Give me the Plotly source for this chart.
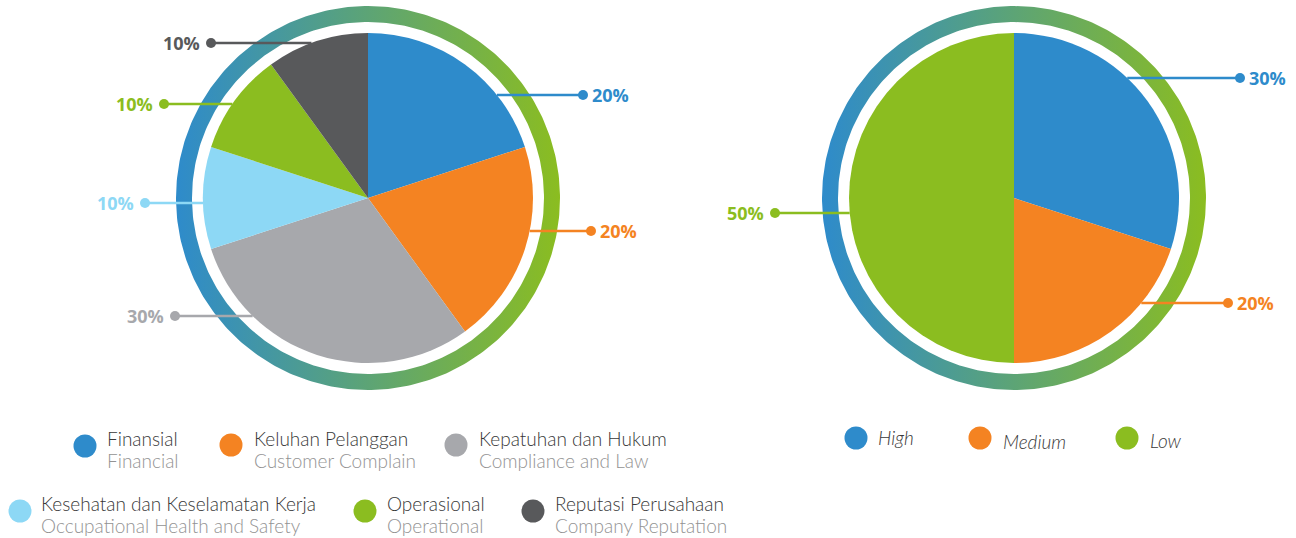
import numpy as np
import plotly.graph_objects as go

W, H = 1296, 538

# Risk categories (left chart)
category_id = ["Finansial", "Keluhan Pelanggan", "Kepatuhan dan Hukum",
               "Kesehatan dan Keselamatan Kerja", "Operasional", "Reputasi Perusahaan"]
category_en = ["Financial", "Customer Complain", "Compliance and Law",
               "Occupational Health and Safety", "Operational", "Company Reputation"]
category_share = [20, 20, 30, 10, 10, 10]
category_colors = ["#2E8BCB", "#F48322", "#A7A8AC", "#8DD8F5", "#8BBD20", "#58595B"]

# Risk levels (right chart)
level_names = ["High", "Medium", "Low"]
level_share = [30, 20, 50]
level_colors = ["#2E8BCB", "#F48322", "#8BBD20"]

# ---- layout (pixel units, y grows downward) ----
PIE_R = 165
RING_IN, RING_OUT = 176, 192
left_center = (368, 198)
right_center = (1014, 198)

# callout placement per slice: (side, y, dot x)
left_callouts = [("right", 95, 583), ("right", 231, 591), ("left", 316, 175),
                 ("left", 203, 145), ("left", 104, 164), ("left", 43, 211)]
right_callouts = [("right", 78, 1240), ("right", 303, 1228), ("left", 213, 775)]

# legend placement: (circle x, circle y, text x, top-line y, bottom-line y)
left_legend_pos = [(85, 446, 107, 438, 460), (231, 445, 254, 438, 460),
                   (456, 445, 479, 438, 460), (20, 511, 41, 503, 525),
                   (365, 511, 387, 503, 525), (533, 511, 555, 503, 525)]
right_legend_pos = [(856, 438, 878, 437), (980, 438, 1003, 441), (1127, 438, 1150, 440)]

RING_COLORS = [[0, "#2E8BCB"], [1, "#8BBD20"]]
LABEL_FONT = "Open Sans"
TEXT_FONT = "Lato"


def px_domain(center, r):
    cx, cy = center
    return dict(x=[(cx - r) / W, (cx + r) / W],
                y=[1 - (cy + r) / H, 1 - (cy - r) / H])


def ring_trace(center):
    cx, cy = center
    t = np.linspace(0, 2 * np.pi, 361)
    xs = np.concatenate([cx + RING_OUT * np.cos(t), cx + RING_IN * np.cos(t[::-1])])
    ys = np.concatenate([cy + RING_OUT * np.sin(t), cy + RING_IN * np.sin(t[::-1])])
    return go.Scatter(x=xs, y=ys, mode="lines", fill="toself",
                      line=dict(width=0, color="rgba(0,0,0,0)"),
                      fillgradient=dict(type="horizontal", colorscale=RING_COLORS),
                      hoverinfo="skip", showlegend=False)


fig = go.Figure()

for c in (left_center, right_center):
    fig.add_trace(ring_trace(c))

annotations = []


def text_note(x, y, text, font, anchor="left"):
    return dict(x=x, y=y, xref="x", yref="y", text=text, showarrow=False,
                xanchor=anchor, yanchor="middle", borderpad=0, borderwidth=0,
                font=font)


def add_callouts(center, values, colors, callouts):
    cx, cy = center
    for v, col, (side, y, dot_x) in zip(values, colors, callouts):
        dx = np.sqrt(max(PIE_R ** 2 - (y - cy) ** 2, 0))
        edge_x = cx + dx if side == "right" else cx - dx
        fig.add_trace(go.Scatter(x=[edge_x, dot_x], y=[y, y], mode="lines",
                                 line=dict(color=col, width=2.5),
                                 hoverinfo="skip", showlegend=False))
        fig.add_trace(go.Scatter(x=[dot_x], y=[y], mode="markers",
                                 marker=dict(color=col, size=10),
                                 hoverinfo="skip", showlegend=False))
        annotations.append(text_note(
            dot_x + (9 if side == "right" else -11), y, f"{v}%",
            dict(family=LABEL_FONT, size=18, color=col, weight=700),
            "left" if side == "right" else "right"))


add_callouts(left_center, category_share, category_colors, left_callouts)
add_callouts(right_center, level_share, level_colors, right_callouts)

# pies
fig.add_trace(go.Pie(values=category_share, labels=category_id,
                     marker=dict(colors=category_colors, line=dict(width=0)),
                     sort=False, direction="clockwise", rotation=0,
                     textinfo="none", hoverinfo="label+percent",
                     domain=px_domain(left_center, PIE_R), showlegend=False))
fig.add_trace(go.Pie(values=level_share, labels=level_names,
                     marker=dict(colors=level_colors, line=dict(width=0)),
                     sort=False, direction="clockwise", rotation=0,
                     textinfo="none", hoverinfo="label+percent",
                     domain=px_domain(right_center, PIE_R), showlegend=False))

# legends
fig.add_trace(go.Scatter(x=[p[0] for p in left_legend_pos], y=[p[1] for p in left_legend_pos],
                         mode="markers", marker=dict(color=category_colors, size=23),
                         hoverinfo="skip", showlegend=False))
for name, en, (_, _, tx, y1, y2) in zip(category_id, category_en, left_legend_pos):
    annotations.append(text_note(tx, y1, name,
                                 dict(family=TEXT_FONT, size=19, color="#383838", weight=300)))
    annotations.append(text_note(tx, y2, en,
                                 dict(family=TEXT_FONT, size=19, color="#939393", weight=300)))

fig.add_trace(go.Scatter(x=[p[0] for p in right_legend_pos], y=[p[1] for p in right_legend_pos],
                         mode="markers", marker=dict(color=level_colors, size=23),
                         hoverinfo="skip", showlegend=False))
for name, (_, _, tx, ty) in zip(level_names, right_legend_pos):
    annotations.append(text_note(tx, ty, f"<i>{name}</i>",
                                 dict(family=TEXT_FONT, size=19, color="#383838", weight=300)))

fig.update_layout(
    width=W, height=H, margin=dict(l=0, r=0, t=0, b=0),
    paper_bgcolor="white", plot_bgcolor="white",
    xaxis=dict(range=[0, W], visible=False, fixedrange=True, domain=[0, 1]),
    yaxis=dict(range=[H, 0], visible=False, fixedrange=True, domain=[0, 1]),
    annotations=annotations, showlegend=False,
)

fig.write_html("out.html")
